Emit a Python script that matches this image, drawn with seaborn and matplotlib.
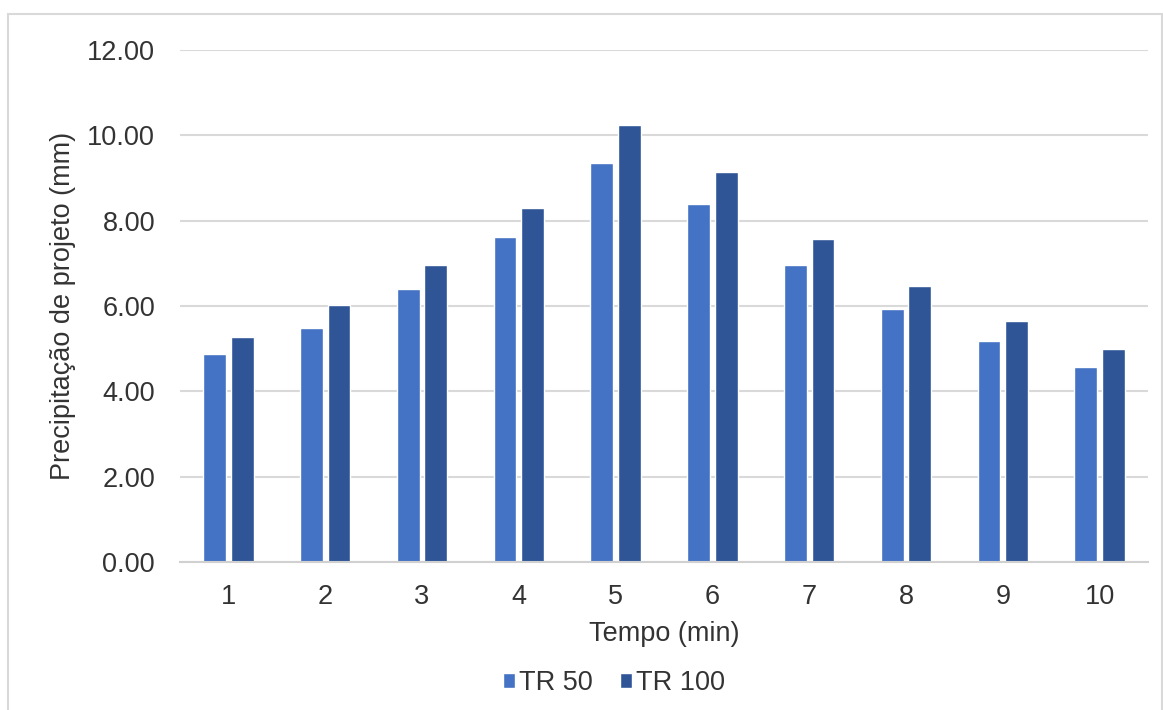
import pandas as pd
import seaborn as sns
import matplotlib.pyplot as plt
from matplotlib.patches import Rectangle

# data
tempo = ['1', '2', '3', '4', '5', '6', '7', '8', '9', '10']
tr50 = [4.88, 5.49, 6.41, 7.61, 9.36, 8.38, 6.95, 5.94, 5.19, 4.56]
tr100 = [5.27, 6.03, 6.97, 8.29, 10.24, 9.14, 7.58, 6.48, 5.66, 4.99]
series = ['TR 50', 'TR 100']
colors = ['#4472C4', '#2F5597']

df = pd.DataFrame({'Tempo': tempo * 2,
                   'valor': tr50 + tr100,
                   'serie': [series[0]] * len(tempo) + [series[1]] * len(tempo)})

sns.set_style('white')
plt.rcParams['font.family'] = ['Liberation Sans', 'DejaVu Sans']
txt = '#333333'
fs = 19.5

fig = plt.figure(figsize=(11.63, 7.10), dpi=100)
ax = fig.add_axes([180 / 1163, 1 - 562 / 710, 968 / 1163, 512 / 710])

sns.barplot(data=df, x='Tempo', y='valor', hue='serie', palette=colors,
            order=tempo, hue_order=series, width=0.57, gap=0.17, ax=ax,
            saturation=1, legend=True)

ax.set_ylim(0, 12)
ax.set_yticks(range(0, 13, 2))
ax.set_yticklabels([f'{v:.2f}' for v in range(0, 13, 2)])
ax.yaxis.grid(True, color='#d9d9d9', linewidth=1.5)
ax.set_axisbelow(True)
for s in ['top', 'right', 'left']:
    ax.spines[s].set_visible(False)
ax.spines['bottom'].set_color('#d0d0d0')
ax.spines['bottom'].set_linewidth(1.5)
ax.tick_params(axis='both', length=0, labelsize=fs, colors=txt)
ax.tick_params(axis='x', pad=16)
ax.tick_params(axis='y', pad=18)

ax.set_xlabel('Tempo (min)', fontsize=fs, color=txt, labelpad=8)
ax.set_ylabel('Precipitação de projeto (mm)', fontsize=fs, color=txt, labelpad=8)

handles, labels = ax.get_legend_handles_labels()
ax.legend(handles, labels, loc='center', bbox_to_anchor=(0.528, (710 - 683) / 710),
          bbox_transform=fig.transFigure, ncol=2, frameon=False, fontsize=fs,
          handlelength=0.45, handleheight=0.45, handletextpad=0.15, columnspacing=1.0,
          labelcolor=txt)

# outer chart border like the spreadsheet frame
fig.patches.append(Rectangle((8 / 1163, -0.1), 1154 / 1163, 1.1 - 14 / 710,
                             transform=fig.transFigure, fill=False,
                             edgecolor='#d9d9d9', linewidth=1.5))

fig.savefig('out.png', dpi=100)
